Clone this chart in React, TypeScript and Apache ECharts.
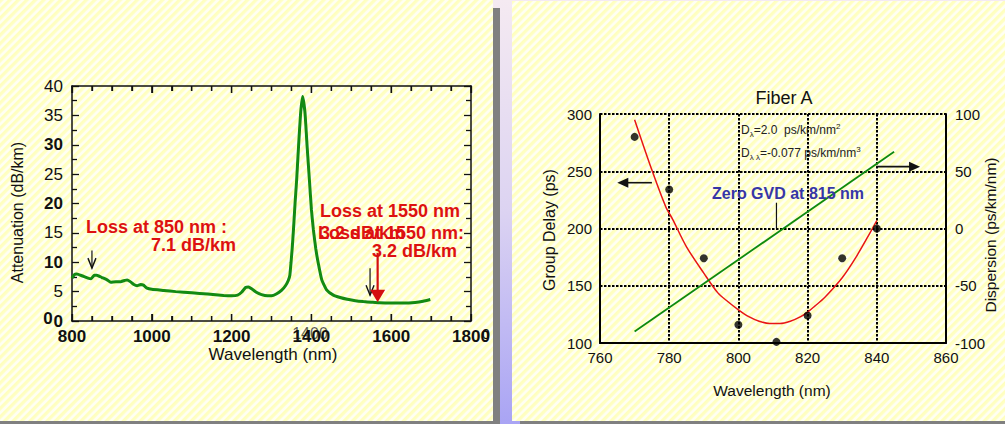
import React, { useEffect, useRef } from "react";
import * as echarts from "echarts";

// ---------- Left chart: attenuation spectrum ----------
const attWavelength = [
  800, 806, 812, 825, 840, 848, 856, 862, 875, 888, 897, 910, 922, 932, 938, 946, 955, 963, 972, 979,
  988, 1000, 1030, 1060, 1100, 1140, 1180, 1200, 1215, 1225, 1235, 1242, 1252, 1262, 1275, 1290, 1300,
  1312, 1325, 1335, 1342, 1346, 1349, 1352, 1355, 1359, 1363, 1368, 1373, 1378, 1384, 1389, 1395, 1400,
  1405, 1411, 1417, 1426, 1438, 1455, 1472, 1490, 1510, 1530, 1550, 1570, 1600, 1630, 1660, 1680, 1698,
];
const attValues = [
  7.3, 7.9, 8.0, 7.7, 7.3, 7.2, 7.8, 7.8, 7.4, 7.0, 6.6, 6.7, 6.7, 6.9, 7.0, 6.7, 6.2, 6.0, 6.2, 6.1,
  5.6, 5.4, 5.2, 5.0, 4.8, 4.6, 4.35, 4.3, 4.4, 4.9, 5.7, 5.8, 5.4, 4.9, 4.5, 4.3, 4.3,
  4.6, 5.2, 6.0, 6.9, 7.8, 10.0, 12.5, 15.5, 20.0, 24.0, 30.0, 35.4, 38.2, 35.4, 30.0, 24.0, 19.0,
  15.5, 12.3, 9.9, 7.0, 5.3, 4.4, 4.0, 3.7, 3.45, 3.3, 3.2, 3.1, 3.05, 3.05, 3.15, 3.35, 3.65,
];
const attBoldYLabels = [30, 20, 10, 0];
const attXMin = 800, attXMax = 1800, attXMajor = 200, attXMinor = 50;

// ---------- Right chart: Fiber A ----------
const gdWavelength = [770, 780, 790, 800, 811, 820, 830, 840];
const gdMeasured = [280, 234, 174, 116, 101, 124, 174, 200];
const gdFitWavelength = [770, 775, 779, 781, 785, 790, 794, 797, 800, 803, 806, 809, 812, 815, 818, 820, 822, 825, 830, 834, 838, 840];
const gdFitValues = [295, 251, 219, 208, 184, 161, 144, 136, 129, 123, 119, 117, 117, 119, 123, 127, 132, 140, 157, 175, 196, 207];
const dispWavelength = [770, 845];
const dispValues = [-90, 67];

const FONT = "'Liberation Sans', Arial, Helvetica, sans-serif";
const RED = "#DD1111";
const STRIPES =
  "repeating-linear-gradient(135deg, #FFFFBC 0px, #FFFFC6 2px, #FFFFF3 3.4px, #FFFFF3 4.8px, #FFFFBC 6px)";

const pairs = (xs: number[], ys: number[]) => xs.map((x, i) => [x, ys[i]]);

export default function App() {
  const ref = useRef<HTMLDivElement>(null);

  useEffect(() => {
    const chart = echarts.init(ref.current!, null, { renderer: "svg", width: 1005, height: 424 });

    const leftAxisLine = { show: true, onZero: false, lineStyle: { color: "#111", width: 1.5 } };
    const leftTick = { show: true, inside: true, length: 7, lineStyle: { color: "#111", width: 1.3 } };
    const leftMinor = (n: number) => ({ show: true, splitNumber: n, length: 5, lineStyle: { color: "#111", width: 1.3 } });
    const rightFrame = { show: true, onZero: false, lineStyle: { color: "#000", width: 2 } };
    const dotted = { show: true, lineStyle: { color: "#000", width: 2, type: [2.5, 1.5] } };
    const plain = (v: number) => String(v);

    chart.setOption({
      animation: false,
      backgroundColor: "transparent",
      grid: [
        { left: 72, top: 86, width: 399, height: 235 },
        { left: 600, top: 114, width: 346, height: 229 },
      ],
      xAxis: [
        {
          type: "value", gridIndex: 0, position: "bottom", min: attXMin, max: attXMax, interval: attXMajor,
          axisLine: leftAxisLine, axisTick: leftTick, minorTick: leftMinor(4),
          axisLabel: { color: "#111", fontSize: 17, fontWeight: "bold", fontFamily: FONT, margin: 7, formatter: plain },
          splitLine: { show: false },
        },
        {
          type: "value", gridIndex: 0, position: "top", min: attXMin, max: attXMax, interval: attXMajor,
          axisLine: leftAxisLine, axisTick: leftTick, minorTick: leftMinor(4),
          axisLabel: { show: false }, splitLine: { show: false },
        },
        {
          type: "value", gridIndex: 1, position: "bottom", min: 760, max: 860, interval: 20,
          axisLine: rightFrame, axisTick: { show: false },
          axisLabel: { color: "#111", fontSize: 15, fontFamily: FONT, margin: 7, formatter: plain },
          splitLine: dotted,
        },
      ],
      yAxis: [
        {
          type: "value", gridIndex: 0, position: "left", min: 0, max: 40, interval: 5,
          axisLine: leftAxisLine, axisTick: leftTick, minorTick: leftMinor(2),
          axisLabel: {
            color: "#111", fontSize: 17, fontFamily: FONT, margin: 9,
            formatter: (v: number) => (attBoldYLabels.includes(v) ? `{b|${v}}` : `${v}`),
            rich: { b: { fontWeight: "bold", fontSize: 17, fontFamily: FONT, color: "#111" } },
          },
          splitLine: { show: false },
        },
        {
          type: "value", gridIndex: 0, position: "right", min: 0, max: 40, interval: 5,
          axisLine: leftAxisLine, axisTick: leftTick, minorTick: leftMinor(2),
          axisLabel: { show: false }, splitLine: { show: false },
        },
        {
          type: "value", gridIndex: 1, position: "left", min: 100, max: 300, interval: 50,
          axisLine: rightFrame, axisTick: { show: false },
          axisLabel: { color: "#111", fontSize: 15, fontFamily: FONT, margin: 8, formatter: plain },
          splitLine: dotted,
        },
        {
          type: "value", gridIndex: 1, position: "right", min: -100, max: 100, interval: 50,
          axisLine: rightFrame, axisTick: { show: false },
          axisLabel: { color: "#111", fontSize: 15, fontFamily: FONT, margin: 9, formatter: plain },
          splitLine: { show: false },
        },
      ],
      series: [
        {
          name: "Attenuation", type: "line", xAxisIndex: 0, yAxisIndex: 0,
          data: pairs(attWavelength, attValues), showSymbol: false, smooth: 0.15,
          lineStyle: { color: "#138A13", width: 3 },
        },
        {
          name: "Group delay fit", type: "line", xAxisIndex: 2, yAxisIndex: 2,
          data: pairs(gdFitWavelength, gdFitValues), showSymbol: false, smooth: 0.3,
          lineStyle: { color: "#E81515", width: 1.5 },
        },
        {
          name: "Dispersion", type: "line", xAxisIndex: 2, yAxisIndex: 3,
          data: pairs(dispWavelength, dispValues), showSymbol: false,
          lineStyle: { color: "#0E8A0E", width: 1.8 },
        },
        {
          name: "Group delay", type: "scatter", xAxisIndex: 2, yAxisIndex: 2,
          data: pairs(gdWavelength, gdMeasured), symbolSize: 8,
          itemStyle: { color: "#000" }, z: 5,
        },
      ],
    });

    const p0 = (x: number, y: number) => chart.convertToPixel({ xAxisIndex: 0, yAxisIndex: 0 }, [x, y]) as number[];
    const p2 = (x: number, y: number) => chart.convertToPixel({ xAxisIndex: 2, yAxisIndex: 2 }, [x, y]) as number[];
    const p3 = (x: number, y: number) => chart.convertToPixel({ xAxisIndex: 2, yAxisIndex: 3 }, [x, y]) as number[];

    // inward tick marks on the bottom and top edges of the attenuation plot
    const xTicks: any[] = [];
    for (let v = attXMin; v <= attXMax; v += attXMinor) {
      const len = v % attXMajor === 0 ? 7 : 5;
      const b = p0(v, 0), t = p0(v, 40);
      xTicks.push(
        { type: "line", z: 9, shape: { x1: b[0], y1: b[1], x2: b[0], y2: b[1] - len }, style: { stroke: "#111", lineWidth: 1.3 } },
        { type: "line", z: 9, shape: { x1: t[0], y1: t[1], x2: t[0], y2: t[1] + len }, style: { stroke: "#111", lineWidth: 1.3 } },
      );
    }

    const txt = (text: string, x: number, y: number, o: any = {}) => ({
      type: "text", x, y, rotation: o.rotation || 0, z: 10,
      style: {
        text, fill: o.fill || "#111", fontSize: o.fontSize || 16, fontWeight: o.fontWeight || "normal",
        fontFamily: FONT, align: o.align || "center", textAlign: o.align || "center",
        verticalAlign: "middle", textVerticalAlign: "middle", opacity: o.opacity ?? 1,
      },
    });
    const openArrowDown = (top: number[], tip: number[]) => [
      { type: "line", z: 10, shape: { x1: top[0], y1: top[1], x2: tip[0], y2: tip[1] }, style: { stroke: "#111", lineWidth: 1.2 } },
      { type: "polyline", z: 10, shape: { points: [[tip[0] - 4, tip[1] - 10], [tip[0], tip[1]], [tip[0] + 4, tip[1] - 10]] }, style: { stroke: "#111", lineWidth: 1.4, fill: null } },
    ];
    const hArrow = (from: number[], tip: number[]) => {
      const dir = Math.sign(tip[0] - from[0]);
      return [
        { type: "line", z: 10, shape: { x1: from[0], y1: from[1], x2: tip[0] - dir * 8, y2: tip[1] }, style: { stroke: "#111", lineWidth: 1.6 } },
        { type: "polygon", z: 10, shape: { points: [[tip[0], tip[1]], [tip[0] - dir * 11, tip[1] - 5], [tip[0] - dir * 11, tip[1] + 5]] }, style: { fill: "#111" } },
      ];
    };

    const a850top = p0(850, 12.0), a850tip = p0(850, 9.0);
    const a1550top = p0(1547, 9.0), a1550tip = p0(1547, 4.4);
    const redTop = p0(1566, 11.6), redTip = p0(1566, 3.2);
    const gdArrowFrom = p2(775, 240), gdArrowTip = p2(765, 240);
    const dArrowFrom = p3(839.8, 54), dArrowTip = p3(852.5, 54);
    const zTop = p2(811, 222.5), zBot = p2(811, 200);

    const richD = {
      n: { fontSize: 12, lineHeight: 16, fontFamily: FONT, fill: "#222" },
      sub: { fontSize: 8, lineHeight: 8, verticalAlign: "bottom", fontFamily: FONT, fill: "#222" },
      sup: { fontSize: 8, lineHeight: 8, verticalAlign: "top", fontFamily: FONT, fill: "#222" },
    };

    chart.setOption({
      graphic: [
        ...xTicks,
        txt("Attenuation (dB/km)", 17.5, 212.5, { rotation: Math.PI / 2, fontSize: 16 }),
        txt("Wavelength (nm)", 273, 354, { fontSize: 17 }),
        txt("1400", 310, 333, { fontSize: 16, opacity: 0.7 }),
        txt("0", 486, 334, { fontSize: 14 }),
        txt("0", 48, 318, { fontSize: 17, fontWeight: "bold" }),
        txt("Loss at 850 nm :", 86, 227, { align: "left", fill: RED, fontWeight: "bold", fontSize: 18 }),
        txt("7.1 dB/km", 236, 245, { align: "right", fill: RED, fontWeight: "bold", fontSize: 18 }),
        txt("Loss at 1550 nm", 320, 211, { align: "left", fill: RED, fontWeight: "bold", fontSize: 18 }),
        txt("Loss at 1550 nm:", 318, 233, { align: "left", fill: RED, fontWeight: "bold", fontSize: 18 }),
        txt("3.2 dB/km", 320, 233, { align: "left", fill: RED, fontWeight: "bold", fontSize: 18 }),
        txt("3.2 dB/km", 457, 251, { align: "right", fill: RED, fontWeight: "bold", fontSize: 18 }),
        ...openArrowDown(a850top, a850tip),
        ...openArrowDown(a1550top, a1550tip),
        { type: "line", z: 11, shape: { x1: redTop[0], y1: redTop[1], x2: redTip[0], y2: redTip[1] - 10 }, style: { stroke: "#D40F0F", lineWidth: 2.2 } },
        { type: "polygon", z: 11, shape: { points: [[redTip[0] - 7.5, redTip[1] - 12.5], [redTip[0] + 7.5, redTip[1] - 12.5], [redTip[0], redTip[1]]] }, style: { fill: "#D40F0F" } },

        txt("Fiber A", 784, 98, { fontSize: 18 }),
        txt("Group Delay (ps)", 549, 230, { rotation: Math.PI / 2, fontSize: 16 }),
        txt("Dispersion (ps/km/nm)", 990.5, 235, { rotation: Math.PI / 2, fontSize: 15.5 }),
        txt("Wavelength (nm)", 772, 390, { fontSize: 15.5 }),
        {
          type: "text", x: 741, y: 130, z: 10,
          style: { text: "{n|D}{sub|λ}{n|=2.0  ps/km/nm}{sup|2}", rich: richD, align: "left", textAlign: "left", verticalAlign: "middle", textVerticalAlign: "middle", fontFamily: FONT },
        },
        {
          type: "text", x: 741, y: 153, z: 10,
          style: { text: "{n|D}{sub|λ λ}{n|=-0.077 ps/km/nm}{sup|3}", rich: richD, align: "left", textAlign: "left", verticalAlign: "middle", textVerticalAlign: "middle", fontFamily: FONT },
        },
        txt("Zero GVD at 815 nm", 788, 193, { fill: "#3636A6", fontWeight: "bold", fontSize: 16 }),
        { type: "line", z: 10, shape: { x1: zTop[0], y1: zTop[1], x2: zBot[0], y2: zBot[1] }, style: { stroke: "#111", lineWidth: 1.2 } },
        ...hArrow(gdArrowFrom, gdArrowTip),
        ...hArrow(dArrowFrom, dArrowTip),
      ],
    });

    return () => chart.dispose();
  }, []);

  return (
    <div
      style={{
        position: "absolute", left: 0, top: 0, width: 1005, height: 424, overflow: "hidden",
        background: "linear-gradient(180deg, #F5EAF2 0%, #DCD3F2 50%, #A9A4F4 100%)",
      }}
    >
      <div style={{ position: "absolute", left: 0, top: 8, width: 500, height: 424, background: "#808080" }} />
      <div style={{ position: "absolute", left: 0, top: 0, width: 493, height: 421, background: STRIPES }} />
      <div style={{ position: "absolute", left: 520, top: 9, width: 485, height: 424, background: "#808080" }} />
      <div style={{ position: "absolute", left: 512, top: 1, width: 493, height: 420, background: STRIPES }} />
      <div ref={ref} style={{ position: "absolute", left: 0, top: 0, width: 1005, height: 424 }} />
    </div>
  );
}
